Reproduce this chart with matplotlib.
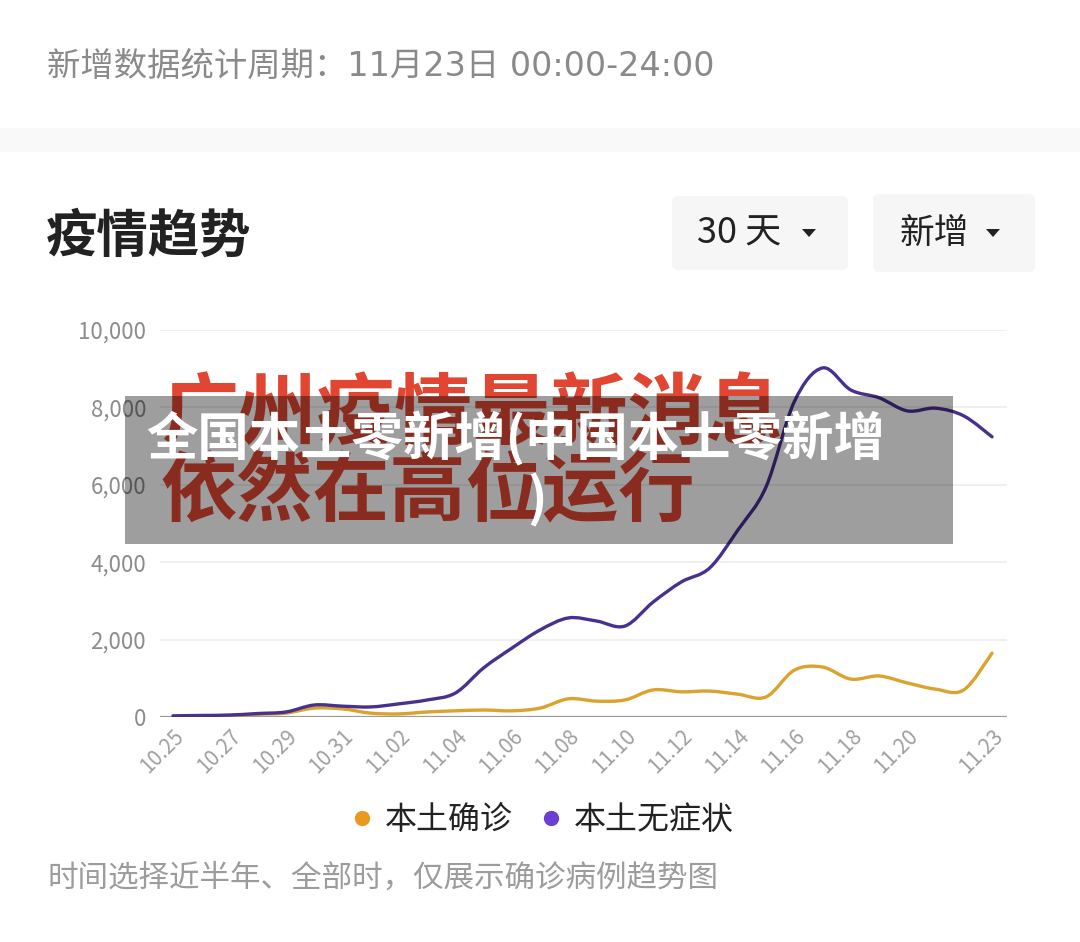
import numpy as np
import matplotlib
matplotlib.use("Agg")
import matplotlib.pyplot as plt
from matplotlib.path import Path
from matplotlib.patches import PathPatch, Rectangle, FancyBboxPatch
from matplotlib.lines import Line2D

plt.rcParams['font.family'] = ['Noto Sans CJK SC', 'DejaVu Sans']

# 30 days, 10.25 -> 11.23
dates = ['10.25', '10.26', '10.27', '10.28', '10.29', '10.30', '10.31',
         '11.01', '11.02', '11.03', '11.04', '11.05', '11.06', '11.07',
         '11.08', '11.09', '11.10', '11.11', '11.12', '11.13', '11.14',
         '11.15', '11.16', '11.17', '11.18', '11.19', '11.20', '11.21',
         '11.22', '11.23']
confirmed = [20, 30, 40, 70, 100, 230, 210, 100, 80, 130, 160, 180, 160, 230,
             470, 410, 440, 700, 650, 670, 590, 520, 1210, 1290, 980, 1060,
             880, 720, 700, 1650]
asymptomatic = [30, 40, 50, 90, 130, 310, 280, 260, 340, 440, 620, 1270, 1780,
                2250, 2560, 2480, 2350, 2970, 3490, 3850, 4830, 5950, 8150,
                9020, 8450, 8250, 7910, 7980, 7780, 7240]
tick_labels = ['10.25', '10.27', '10.29', '10.31', '11.02', '11.04', '11.06',
               '11.08', '11.10', '11.12', '11.14', '11.16', '11.18', '11.20',
               '11.23']
y_ticks = [0, 2000, 4000, 6000, 8000, 10000]
legend_names = ['本土确诊', '本土无症状']

W, H = 1080, 942


def fx(x):
    return x / W


def fy(y):
    return 1 - y / H


# smooth curve through the points (cubic bezier, catmull-rom style)
def smooth_path(xs, ys):
    pts = np.column_stack([xs, ys]).astype(float)
    n = len(pts)
    verts = [pts[0]]
    codes = [Path.MOVETO]
    for i in range(n - 1):
        p0 = pts[max(i - 1, 0)]
        p1 = pts[i]
        p2 = pts[i + 1]
        p3 = pts[min(i + 2, n - 1)]
        verts += [p1 + (p2 - p0) / 6, p2 - (p3 - p1) / 6, p2]
        codes += [Path.CURVE4] * 3
    return Path(verts, codes)


fig = plt.figure(figsize=(W / 100, H / 100), dpi=100)
fig.patch.set_facecolor('white')

# header
fig.text(fx(47), fy(66), '新增数据统计周期：11月23日 00:00-24:00',
         fontsize=24, color='#8a8a8a', va='center', ha='left',
         family=['DejaVu Sans', 'Noto Sans CJK SC'])
fig.add_artist(Rectangle((0, fy(152)), 1, (152 - 128) / H, transform=fig.transFigure,
                         facecolor='#f9f9f9', edgecolor='none', zorder=0))

# title and buttons
fig.text(fx(46), fy(236), '疫情趋势', fontsize=37, fontweight='bold',
         color='#222222', va='center', ha='left')
for (x0, y0, x1, y1) in [(672, 196, 848, 270), (873, 194, 1035, 272)]:
    fig.add_artist(FancyBboxPatch((fx(x0), fy(y1)), (x1 - x0) / W, (y1 - y0) / H,
                                  boxstyle='round,pad=0,rounding_size=0.006',
                                  transform=fig.transFigure, facecolor='#f6f6f6',
                                  edgecolor='none', zorder=1))
fig.text(fx(697), fy(233), '30 天', fontsize=26, color='#222222',
         va='center', ha='left', zorder=2)
fig.text(fx(900), fy(233), '新增', fontsize=25, color='#222222',
         va='center', ha='left', zorder=2)
for cx in [809, 993]:
    fig.add_artist(plt.Polygon([[fx(cx - 7), fy(229)], [fx(cx + 7), fy(229)],
                                [fx(cx), fy(237)]], closed=True,
                               transform=fig.transFigure, facecolor='#222222',
                               edgecolor='none', zorder=2))

# chart
ax = fig.add_axes([fx(160), fy(717), (1007 - 160) / W, (717 - 330) / H])
x = np.arange(len(dates))
ax.add_patch(PathPatch(smooth_path(x, confirmed), fill=False, edgecolor='#dba22e',
                       lw=2.4, capstyle='round', joinstyle='round', zorder=3))
ax.add_patch(PathPatch(smooth_path(x, asymptomatic), fill=False, edgecolor='#48308f',
                       lw=2.4, capstyle='round', joinstyle='round', zorder=4))
ax.set_xlim(-0.46, 29.53)
ax.set_ylim(0, 10000)
ax.set_yticks(y_ticks)
ax.set_yticklabels([f'{v:,}' for v in y_ticks])
ax.set_xticks([dates.index(t) for t in tick_labels])
ax.set_xticklabels(tick_labels)
ax.tick_params(axis='y', length=0, pad=10, labelsize=16, labelcolor='#8c8c8c')
ax.tick_params(axis='x', length=0, pad=6, labelsize=15, labelcolor='#a0a0a0')
plt.setp(ax.get_xticklabels(), rotation=45, ha='right', rotation_mode='anchor')
for s in ax.spines.values():
    s.set_visible(False)
for v in y_ticks[1:]:
    ax.axhline(v, color='#ededed', lw=1.2, zorder=1)
ax.axhline(0, color='#9a9a9a', lw=1.6, zorder=2)
ax.patch.set_alpha(0)

# legend
handles = [Line2D([], [], ls='none', marker='o', markersize=10, color='#e8991e'),
           Line2D([], [], ls='none', marker='o', markersize=10, color='#6a3fd2')]
fig.legend(handles, legend_names, loc='center', bbox_to_anchor=(fx(540), fy(820)),
           ncol=2, frameon=False, fontsize=23, handletextpad=0.2,
           columnspacing=0.7, handlelength=1.0, labelcolor='#222222')

# footer
fig.text(fx(47), fy(878), '时间选择近半年、全部时，仅展示确诊病例趋势图',
         fontsize=22, color='#9c9c9c', va='center', ha='left')

# pasted red caption + gray banner
fig.text(fx(162), fy(416), '广州疫情最新消息', fontsize=56, fontweight='bold',
         color='#e04632', va='center', ha='left', zorder=5)
fig.text(fx(160), fy(493), '依然在高位运行', fontsize=55, fontweight='bold',
         color='#e04632', va='center', ha='left', zorder=5)
fig.add_artist(Rectangle((fx(125), fy(544)), (953 - 125) / W, (544 - 396) / H,
                         transform=fig.transFigure, facecolor='black', alpha=0.38,
                         edgecolor='none', zorder=10))
fig.text(fx(516), fy(438), '全国本土零新增(中国本土零新增', fontsize=37,
         fontweight='heavy', color='white', va='center', ha='center', zorder=11)
fig.text(fx(537), fy(500), ')', fontsize=37, fontweight='heavy', color='white',
         va='center', ha='center', zorder=11)

fig.savefig('out.png', dpi=100)
